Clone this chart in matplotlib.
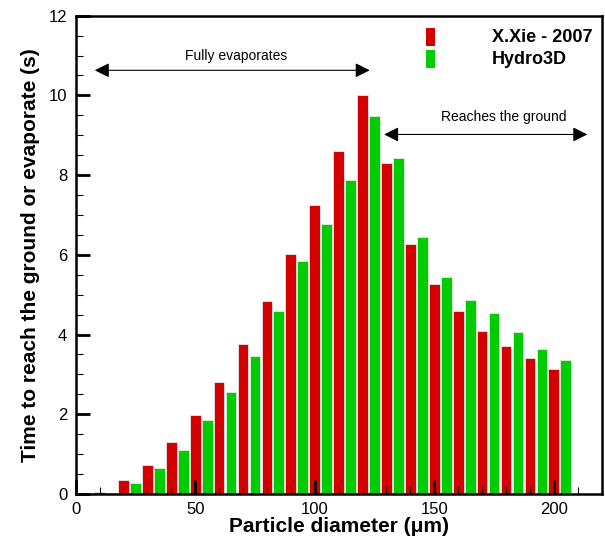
import numpy as np
import matplotlib
matplotlib.use("Agg")
import matplotlib.pyplot as plt
from matplotlib.ticker import MultipleLocator

# Droplet diameters (um) and time to reach the ground / evaporate (s)
diameters = np.arange(10, 201, 10)
xie_2007 = [0.06, 0.35, 0.73, 1.30, 1.99, 2.82, 3.76, 4.85, 6.01, 7.24,
            8.60, 10.0, 8.30, 6.28, 5.26, 4.60, 4.08, 3.71, 3.40, 3.14]
hydro3d = [0.03, 0.28, 0.65, 1.10, 1.86, 2.55, 3.46, 4.58, 5.85, 6.78,
           7.88, 9.49, 8.44, 6.45, 5.45, 4.86, 4.53, 4.07, 3.63, 3.36]

plt.rcParams['font.family'] = ['Liberation Sans', 'DejaVu Sans']

fig = plt.figure(figsize=(6.05, 5.41), dpi=100)
ax = fig.add_axes([0.125, 0.087, 0.8695, 0.884])

red = '#d40000'
green = '#00cc00'
ax.bar(diameters, xie_2007, width=4.5, color=red, edgecolor='#e8e8e8',
       linewidth=0.6)
ax.bar(diameters + 5, hydro3d, width=4.5, color=green, edgecolor='#e8e8e8',
       linewidth=0.6)

ax.set_xlim(0, 220)
ax.set_ylim(0, 12)
ax.xaxis.set_major_locator(MultipleLocator(50))
ax.xaxis.set_minor_locator(MultipleLocator(10))
ax.yaxis.set_major_locator(MultipleLocator(2))
ax.yaxis.set_minor_locator(MultipleLocator(0.5))
ax.tick_params(which='major', direction='in', length=10, width=2,
               labelsize=12, pad=6)
ax.tick_params(which='minor', direction='in', length=5, width=0.8)
for s in ax.spines.values():
    s.set_linewidth(1.8)

ax.set_xlabel('Particle diameter (\u03bcm)', fontsize=15, fontweight='bold',
              labelpad=0)
ax.set_ylabel('Time to reach the ground or evaporate (s)', fontsize=15,
              fontweight='bold', labelpad=6)

# annotations
arrow = dict(arrowstyle='<|-|>', color='black', lw=0.8,
             mutation_scale=22, shrinkA=0, shrinkB=0)
ax.annotate('', xy=(8, 10.63), xytext=(123, 10.63), arrowprops=arrow)
ax.text(67, 11.0, 'Fully evaporates', ha='center', va='center', fontsize=10)
ax.annotate('', xy=(129, 9.02), xytext=(214, 9.02), arrowprops=arrow)
ax.text(179, 9.45, 'Reaches the ground', ha='center', va='center',
        fontsize=10)

# legend drawn as patches + text to match the original layout
ax.bar([148.5], [0.45], width=3.9, bottom=11.25, color=red)
ax.bar([148.5], [0.45], width=3.9, bottom=10.68, color=green)
ax.text(174, 11.45, 'X.Xie - 2007', fontsize=13, fontweight='bold',
        va='center')
ax.text(174, 10.9, 'Hydro3D', fontsize=13, fontweight='bold', va='center')

fig.savefig('out.png', dpi=100)
